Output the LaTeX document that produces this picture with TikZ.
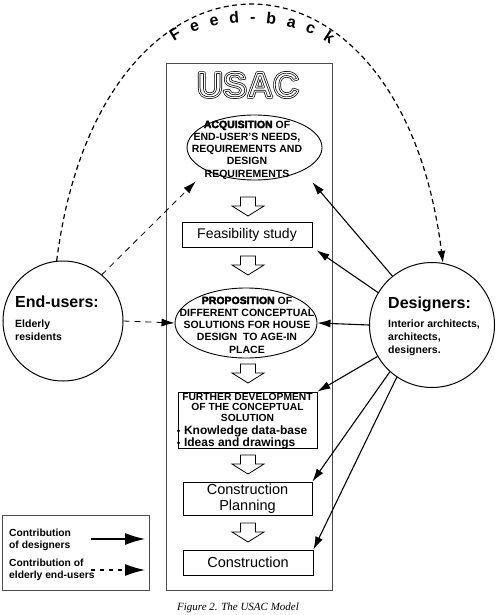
\documentclass[tikz,border=0pt]{standalone}
\usepackage{fontspec}
\setmainfont{Liberation Sans}
\newfontfamily\capfont{Liberation Serif}
\usetikzlibrary{arrows.meta, positioning, shapes.geometric, decorations.text}

% hollow (double outlined) lettering and extra heavy keywords
\newcommand{\hollowtitle}[1]{%
  \special{pdf:literal direct 1 j 2.4 w 1 Tr}\rlap{#1}%
  \textcolor{white}{\special{pdf:literal direct 1 w}#1}%
  \special{pdf:literal direct 0 Tr}}
\newcommand{\heavy}[1]{%
  \special{pdf:literal direct 0.35 w 2 Tr}#1\special{pdf:literal direct 0 Tr}}

\begin{document}
\begin{tikzpicture}[
				x=1pt, y=-1pt,
				panel/.style={draw=black!70, line width=0.7pt, inner sep=0pt},
				box/.style={draw, line width=0.8pt, inner sep=0pt, align=center},
				oval/.style={draw, ellipse, line width=0.9pt, inner sep=0pt},
				ovaltext/.style={align=center, inner sep=0pt, font=\bfseries\fontsize{10.5}{12.3}\selectfont},
				actor/.style={draw, circle, line width=1pt, inner sep=0pt},
				actorhead/.style={font=\bfseries\fontsize{16}{16}\selectfont, inner sep=0pt, anchor=base west},
				actorsub/.style={font=\bfseries\fontsize{10.5}{12.8}\selectfont, align=left, inner sep=0pt, anchor=north west},
				legtext/.style={font=\bfseries\fontsize{10.3}{11.5}\selectfont, align=left, inner sep=0pt, anchor=north west},
				arrow/.style={-{Latex[length=13pt,width=8pt]}, line width=1.1pt},
				userarrow/.style={arrow, line width=0.8pt, dash pattern=on 6pt off 5pt},
				feedback/.style={-{Latex[length=12pt,width=8pt]}, line width=1.2pt, dash pattern=on 5pt off 3.5pt},
				legarrow/.style={-{Latex[length=20pt,width=12pt]}, line width=1.3pt},
				hollowdown/.pic={\draw[line width=0.8pt, fill=white] (-7.5,0) -- (7.5,0) -- (7.5,9) -- (16,9) -- (0,19) -- (-16,9) -- (-7.5,9) -- cycle;}
				]
				\useasboundingbox (0,0) rectangle (497,615);
				
				% USAC frame and title
				\node[panel, minimum width=166pt, minimum height=527pt] (usac) at (249,326.5) {};
				\node[inner sep=0pt, font=\bfseries\fontsize{36}{36}\selectfont] (title) at (248,85) {\hollowtitle{USAC}};
				
				% Process steps
				\node[oval, minimum width=135pt, minimum height=65pt] (acq) at (254.5,147.5) {};
				\node[ovaltext] (acqtext) at (247,150) {\heavy{ACQUISITION} OF\\END-USER'S NEEDS,\\REQUIREMENTS AND\\DESIGN\\REQUIREMENTS};
				\pic at (248,197) {hollowdown};
				
				\node[box, minimum width=130pt, minimum height=25pt, font=\fontsize{14}{14}\selectfont] (feas) at (247,234.5) {Feasibility study};
				\pic at (248,256) {hollowdown};
				
				\node[oval, minimum width=142pt, minimum height=70pt] (prop) at (246,323) {};
				\node[ovaltext] (proptext) at (247,325) {\heavy{PROPOSITION} OF\\DIFFERENT CONCEPTUAL\\SOLUTIONS FOR HOUSE\\DESIGN\ \ TO AGE-IN\\PLACE};
				\pic at (248,364) {hollowdown};
				
				\node[box, minimum width=139pt, minimum height=56pt] (further) at (247.5,420) {};
				\node[align=center, inner sep=0pt, anchor=north, font=\bfseries\fontsize{10.3}{10.5}\selectfont] (furtherhead) at (247.5,393) {FURTHER DEVELOPMENT\\OF THE CONCEPTUAL\\SOLUTION};
				\node[align=left, inner sep=0pt, anchor=north west, font=\bfseries\fontsize{12}{11}\selectfont] (furtherlist) at (176.5,425.5) {- Knowledge data-base\\- Ideas and drawings};
				\pic at (248,455) {hollowdown};
				
				\node[box, minimum width=129pt, minimum height=33pt, font=\fontsize{14.5}{16.5}\selectfont] (plan) at (247.5,498.5) {Construction\\Planning};
				\pic at (248,523) {hollowdown};
				
				\node[box, minimum width=130pt, minimum height=25pt, font=\fontsize{14.5}{14.5}\selectfont] (constr) at (248,562.5) {Construction};
				
				% Actors
				\node[actor, minimum size=120pt] (endusers) at (63,321) {};
				\node[actorhead] (endhead) at (15,307) {End-users:};
				\node[actorsub] (endsub) at (15,319.5) {Elderly\\residents};
				
				\node[actor, minimum size=125pt] (designers) at (432,325) {};
				\node[actorhead] (deshead) at (388,308) {Designers:};
				\node[actorsub] (dessub) at (388,320) {Interior architects,\\architects,\\designers.};
				
				% Contributions of designers
				\draw[arrow, shorten >=15pt] (designers.129) -- (acq.south east);
				\draw[arrow, shorten >=5pt] (designers.149) -- (feas.south east);
				\draw[arrow] (designers.west) -- (prop.east);
				\draw[arrow] (designers.210) -- (further.north east);
				\draw[arrow] (designers.228) -- (plan.north east);
				\draw[arrow] (designers.236) -- (constr.north east);
				
				% Contributions of elderly end-users
				\draw[userarrow, shorten >=15pt] (endusers.50) -- (acq.south west);
				\draw[userarrow] (endusers.east) -- (prop.west);
				
				% Feed-back loop
				\draw[feedback] (endusers.96) .. controls (100,-80) and (400,-80) .. (designers.80);
				\path[decorate, decoration={text along path, text align=fit to path, text={|\bfseries\fontsize{16}{16}\selectfont|Feed-back}}] (174,42) .. controls (210,16) and (292,16) .. (330,44);
				
				% Legend
				\node[panel, minimum width=147pt, minimum height=75pt] (legend) at (75.5,552.5) {};
				\node[legtext] (legdes) at (9,529) {Contribution\\of designers};
				\coordinate (ldesA) at (91,539);
				\coordinate (ldesB) at (145,539);
				\draw[legarrow] (ldesA) -- (ldesB);
				\node[legtext] (legusr) at (9,559) {Contribution of\\elderly end-users};
				\coordinate (lusrA) at (91,570);
				\coordinate (lusrB) at (145,570);
				\draw[legarrow, dash pattern=on 4pt off 5pt] (lusrA) -- (lusrB);
				
				% Caption
				\node[font=\capfont\itshape\fontsize{11}{11}\selectfont, anchor=base, inner sep=0pt] (caption) at (238,610.5) {Figure 2. The USAC Model};
				
			\end{tikzpicture}
\end{document}
